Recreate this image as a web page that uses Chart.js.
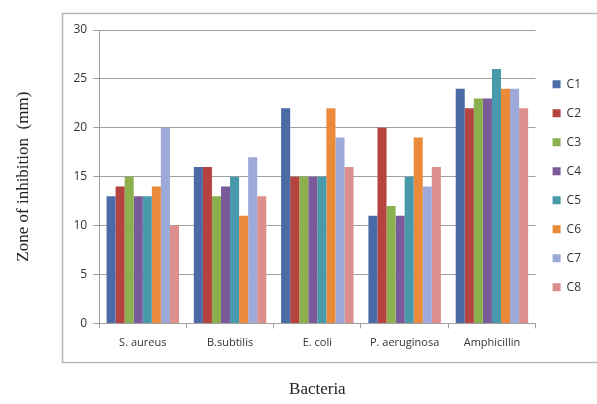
<!DOCTYPE html>
<html>
<head>
<meta charset="utf-8">
<script src="https://cdn.jsdelivr.net/npm/chart.js@4/dist/chart.umd.min.js"></script>
<style>
  body { margin: 0; background: #fff; }
  #wrap { position: relative; width: 597px; height: 404px; }
</style>
</head>
<body>
<div id="wrap"><canvas id="chart" width="597" height="404"></canvas></div>
<script>
const bacteria = ["S. aureus", "B.subtilis", "E. coli", "P. aeruginosa", "Amphicillin"];
const seriesNames = ["C1", "C2", "C3", "C4", "C5", "C6", "C7", "C8"];
const C1 = [13, 16, 22, 11, 24];
const C2 = [14, 16, 15, 20, 22];
const C3 = [15, 13, 15, 12, 23];
const C4 = [13, 14, 15, 11, 23];
const C5 = [13, 15, 15, 15, 26];
const C6 = [14, 11, 22, 19, 24];
const C7 = [20, 17, 19, 14, 24];
const C8 = [10, 13, 16, 16, 22];
const colors = ["#4A6BA6", "#B5433F", "#8DB04E", "#7A5A98", "#4899AC", "#EC8A3C", "#9DA9D8", "#DC8F8C"];

const seriesValues = [C1, C2, C3, C4, C5, C6, C7, C8];

// outer frame like the spreadsheet chart border
const framePlugin = {
  id: "frame",
  beforeDraw(chart) {
    const ctx = chart.ctx;
    ctx.save();
    ctx.strokeStyle = "#b8b8b8";
    ctx.lineWidth = 1.5;
    ctx.strokeRect(62.5, 13.5, 560, 349);
    ctx.restore();
  }
};

new Chart(document.getElementById("chart"), {
  type: "bar",
  data: {
    labels: bacteria,
    datasets: seriesNames.map((name, i) => ({
      label: name,
      data: seriesValues[i],
      backgroundColor: colors[i],
      borderWidth: 0,
      barPercentage: 1.0,
      categoryPercentage: 0.83
    }))
  },
  options: {
    responsive: false,
    animation: false,
    layout: { padding: { left: 13, right: 6, top: 30, bottom: 4 } },
    plugins: {
      legend: {
        position: "right",
        align: "center",
        fullSize: false,
        title: { display: true, text: " ", font: { size: 10 }, padding: 3 },
        labels: {
          boxWidth: 8,
          boxHeight: 8,
          padding: 17,
          color: "#333",
          font: { family: "Open Sans", size: 12 }
        }
      },
      tooltip: { enabled: false }
    },
    scales: {
      x: {
        grid: {
          display: true,
          drawOnChartArea: false,
          color: "#a0a0a0",
          tickLength: 5,
          offset: true
        },
        border: { color: "#a0a0a0" },
        ticks: { color: "#333", font: { family: "Open Sans", size: 11 }, padding: 8 },
        title: {
          display: true,
          text: "Bacteria",
          color: "#222",
          font: { family: "Liberation Serif", size: 17 },
          padding: { top: 22, bottom: 0 }
        }
      },
      y: {
        min: 0,
        max: 30,
        ticks: { stepSize: 5, color: "#333", font: { family: "Open Sans", size: 12 }, padding: 6 },
        grid: { color: "#a0a0a0", tickLength: 6 },
        border: { color: "#a0a0a0" },
        title: {
          display: true,
          text: "Zone of inhibition  (mm)",
          color: "#222",
          font: { family: "Liberation Serif", size: 17 },
          padding: { top: 0, bottom: 34 }
        }
      }
    }
  },
  plugins: [framePlugin]
});
</script>
</body>
</html>
